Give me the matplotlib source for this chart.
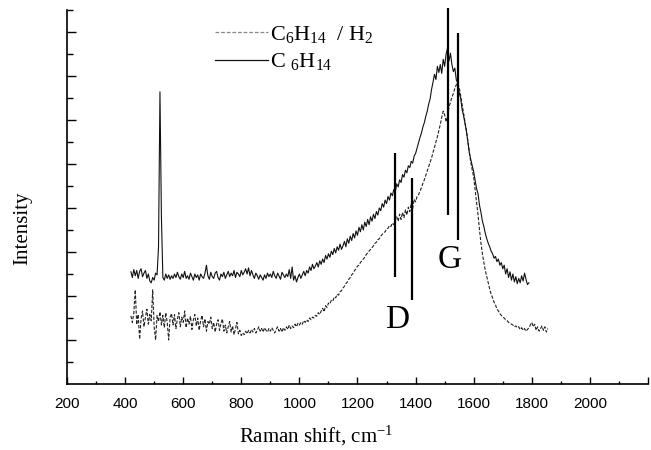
import matplotlib

matplotlib.use("Agg")
import matplotlib.pyplot as plt
import numpy as np
from matplotlib.lines import Line2D

SHIFT_STEP = 5
SOLID_START = 420
solid_c6h14 = [
    2.55, 2.42, 2.60, 2.46, 2.58, 2.40, 2.56, 2.62, 2.44, 2.52,  # 420
    2.58, 2.40, 2.50, 2.34, 2.30, 2.42, 2.36, 2.52, 2.48, 3.10,  # 470
    6.64, 3.80, 2.42, 2.36, 2.50, 2.40, 2.48, 2.38, 2.46, 2.40,  # 520
    2.50, 2.42, 2.54, 2.44, 2.38, 2.50, 2.42, 2.56, 2.40, 2.46,  # 570
    2.38, 2.52, 2.44, 2.36, 2.50, 2.42, 2.48, 2.36, 2.50, 2.44,  # 620
    2.40, 2.52, 2.70, 2.46, 2.38, 2.54, 2.44, 2.40, 2.52, 2.56,  # 670
    2.42, 2.36, 2.50, 2.44, 2.54, 2.40, 2.48, 2.56, 2.44, 2.52,  # 720
    2.46, 2.58, 2.42, 2.54, 2.50, 2.44, 2.58, 2.48, 2.54, 2.62,  # 770
    2.50, 2.64, 2.46, 2.58, 2.48, 2.40, 2.52, 2.46, 2.38, 2.48,  # 820
    2.42, 2.36, 2.48, 2.40, 2.52, 2.44, 2.50, 2.42, 2.56, 2.46,  # 870
    2.40, 2.52, 2.45, 2.38, 2.54, 2.48, 2.42, 2.50, 2.44, 2.60,  # 920
    2.40, 2.66, 2.36, 2.46, 2.32, 2.42, 2.50, 2.40, 2.48, 2.56,  # 970
    2.46, 2.58, 2.52, 2.66, 2.58, 2.72, 2.62, 2.68, 2.76, 2.66,  # 1020
    2.80, 2.72, 2.84, 2.76, 2.92, 2.84, 2.96, 2.88, 3.02, 2.94,  # 1070
    3.08, 2.98, 3.12, 3.04, 3.18, 3.06, 3.14, 3.24, 3.12, 3.30,  # 1120
    3.20, 3.36, 3.26, 3.42, 3.32, 3.48, 3.38, 3.56, 3.46, 3.62,  # 1170
    3.50, 3.68, 3.58, 3.74, 3.62, 3.80, 3.70, 3.86, 3.76, 3.92,  # 1220
    3.84, 4.00, 3.94, 4.10, 4.02, 4.18, 4.10, 4.26, 4.18, 4.34,  # 1270
    4.28, 4.42, 4.36, 4.55, 4.48, 4.64, 4.58, 4.76, 4.70, 4.86,  # 1320
    4.80, 4.96, 4.92, 5.06, 5.02, 5.18, 5.24, 5.36, 5.48, 5.60,  # 1370
    5.70, 5.84, 5.94, 6.08, 6.20, 6.36, 6.48, 6.70, 6.86, 7.04,  # 1420
    6.92, 7.22, 7.08, 7.26, 7.06, 7.38, 7.22, 7.50, 7.64, 7.34,  # 1470
    7.52, 7.26, 7.10, 7.18, 6.92, 6.84, 6.62, 6.50, 6.24, 6.10,  # 1520
    5.92, 5.74, 5.50, 5.26, 5.10, 4.96, 4.82, 4.62, 4.44, 4.32,  # 1570
    4.06, 3.90, 3.70, 3.58, 3.42, 3.30, 3.20, 3.12, 3.02, 2.96,  # 1620
    2.86, 2.90, 2.78, 2.84, 2.70, 2.76, 2.62, 2.70, 2.50, 2.62,  # 1670
    2.42, 2.55, 2.36, 2.50, 2.32, 2.44, 2.28, 2.40, 2.30, 2.46,  # 1720
    2.34, 2.52, 2.38, 2.26, 2.30,                                # 1770
]
DASHED_START = 420
dashed_c6h14_h2 = [
    1.55, 1.40, 1.62, 2.14, 1.35, 1.58, 1.02, 1.48, 1.66, 1.30,  # 420
    1.52, 1.70, 1.36, 1.58, 1.44, 2.14, 1.30, 1.00, 1.56, 1.42,  # 470
    1.64, 1.34, 1.56, 1.28, 1.62, 1.40, 1.00, 1.52, 1.60, 1.34,  # 520
    1.58, 1.26, 1.48, 1.62, 1.30, 1.52, 1.40, 1.66, 1.28, 1.50,  # 570
    1.36, 1.54, 1.24, 1.46, 1.58, 1.32, 1.50, 1.22, 1.44, 1.56,  # 620
    1.30, 1.48, 1.20, 1.42, 1.36, 1.52, 1.26, 1.40, 1.18, 1.36,  # 670
    1.46, 1.22, 1.38, 1.48, 1.20, 1.34, 1.16, 1.30, 1.42, 1.18,  # 720
    1.32, 1.12, 1.26, 1.40, 1.14, 1.22, 1.10, 1.16, 1.12, 1.20,  # 770
    1.14, 1.22, 1.16, 1.24, 1.18, 1.26, 1.16, 1.22, 1.30, 1.20,  # 820
    1.26, 1.18, 1.28, 1.22, 1.18, 1.26, 1.20, 1.28, 1.22, 1.16,  # 870
    1.24, 1.30, 1.20, 1.26, 1.18, 1.28, 1.22, 1.30, 1.24, 1.34,  # 920
    1.26, 1.32, 1.28, 1.36, 1.30, 1.38, 1.34, 1.40, 1.36, 1.44,  # 970
    1.40, 1.46, 1.42, 1.50, 1.46, 1.52, 1.50, 1.56, 1.54, 1.62,  # 1020
    1.58, 1.66, 1.72, 1.64, 1.78, 1.74, 1.84, 1.82, 1.90, 1.88,  # 1070
    1.98, 1.96, 2.04, 2.02, 2.10, 2.12, 2.18, 2.22, 2.28, 2.32,  # 1120
    2.38, 2.42, 2.48, 2.52, 2.58, 2.62, 2.68, 2.70, 2.76, 2.80,  # 1170
    2.84, 2.88, 2.94, 2.98, 3.02, 3.06, 3.10, 3.14, 3.20, 3.22,  # 1220
    3.28, 3.30, 3.36, 3.40, 3.44, 3.46, 3.52, 3.54, 3.60, 3.58,  # 1270
    3.66, 3.62, 3.72, 3.80, 3.70, 3.86, 3.74, 3.90, 3.78, 3.96,  # 1320
    3.84, 4.02, 3.92, 4.10, 3.98, 4.20, 4.14, 4.26, 4.30, 4.38,  # 1370
    4.46, 4.56, 4.64, 4.74, 4.84, 4.94, 5.04, 5.14, 5.26, 5.38,  # 1420
    5.50, 5.62, 5.76, 5.90, 6.06, 6.20, 6.12, 5.96, 6.08, 6.30,  # 1470
    6.40, 6.52, 6.60, 6.72, 6.80, 6.84, 6.74, 6.56, 6.36, 6.16,  # 1520
    5.96, 5.76, 5.52, 5.26, 5.04, 4.86, 4.70, 4.40, 4.12, 3.84,  # 1570
    3.50, 3.20, 2.96, 2.76, 2.58, 2.44, 2.30, 2.16, 2.04, 1.96,  # 1620
    1.86, 1.80, 1.70, 1.66, 1.60, 1.56, 1.52, 1.50, 1.46, 1.44,  # 1670
    1.40, 1.38, 1.36, 1.34, 1.30, 1.32, 1.28, 1.30, 1.24, 1.28,  # 1720
    1.22, 1.26, 1.20, 1.24, 1.28, 1.34, 1.40, 1.30, 1.36, 1.22,  # 1770
    1.30, 1.20, 1.26, 1.32, 1.22, 1.30, 1.18, 1.26,              # 1820
]

# D and G band markers: position, lower end, upper end
band_shift = [1329, 1389, 1510, 1545]
band_low = [2.43, 1.91, 3.84, 3.27]
band_high = [5.25, 4.68, 8.55, 7.98]
band_names = ["D", "G"]
band_name_x = [1335, 1518]
band_name_y = [1.45, 2.82]

series_labels = ["C$_6$H$_{14}$  / H$_2$", "C $_6$H$_{14}$"]
x_ticks = list(range(200, 2201, 200))
x_tick_labels = [str(t) for t in x_ticks[:-1]] + [""]

SERIF = "Liberation Serif"
plt.rcParams["font.family"] = "Liberation Sans"
plt.rcParams["mathtext.fontset"] = "custom"
plt.rcParams["mathtext.rm"] = SERIF
plt.rcParams["mathtext.it"] = SERIF + ":italic"

x_solid = SOLID_START + SHIFT_STEP * np.arange(len(solid_c6h14))
x_dashed = DASHED_START + SHIFT_STEP * np.arange(len(dashed_c6h14_h2))

fig = plt.figure(figsize=(6.51, 4.5), dpi=100)
ax = fig.add_axes([67 / 651, 66 / 450, 581 / 651, 374 / 450])

ax.plot(x_dashed, dashed_c6h14_h2, color="#222222", linewidth=0.8, linestyle=(0, (3, 1.5)))
ax.plot(x_solid, solid_c6h14, color="#111111", linewidth=0.8)
ax.vlines(band_shift, band_low, band_high, colors="black", linewidth=1.6, clip_on=False)
for name, bx, by in zip(band_names, band_name_x, band_name_y):
    ax.text(bx, by, name, fontsize=24, family=SERIF, ha="center", va="center")

ax.set_xlim(200, 2200)
ax.set_ylim(0, 8.5)
ax.set_xticks(x_ticks)
ax.set_xticklabels(x_tick_labels)
ax.set_xticks(range(300, 2200, 200), minor=True)
ax.set_yticks(range(1, 9))
ax.set_yticks(np.arange(0.5, 8.6, 1.0), minor=True)
ax.tick_params(direction="in", which="both", width=1.0, colors="black")
ax.tick_params(axis="x", which="major", length=5, labelsize=11, pad=9)
ax.tick_params(axis="x", which="minor", length=2.5)
ax.tick_params(axis="y", which="major", length=6.5, labelleft=False)
ax.tick_params(axis="y", which="minor", length=4.3)
for side in ("top", "right"):
    ax.spines[side].set_visible(False)
for side in ("left", "bottom"):
    ax.spines[side].set_linewidth(1.2)

ax.set_xlabel("Raman shift, cm$^{-1}$", fontsize=15, family=SERIF)
ax.xaxis.set_label_coords(0.4286, -0.108)
ax.set_ylabel("Intensity", fontsize=15, family=SERIF)
ax.yaxis.set_label_coords(-0.06, 0.417)

handles = [
    Line2D([], [], color="#888888", linewidth=0.9, linestyle=(0, (3, 1.5))),
    Line2D([], [], color="#111111", linewidth=0.9),
]
ax.legend(handles, series_labels, loc="upper left", bbox_to_anchor=(0.255, 0.962),
          frameon=False, prop={"family": SERIF, "size": 16}, handlelength=2.4,
          handletextpad=0.05, labelspacing=0.28, borderpad=0, borderaxespad=0)

fig.savefig("out.png", dpi=100)
